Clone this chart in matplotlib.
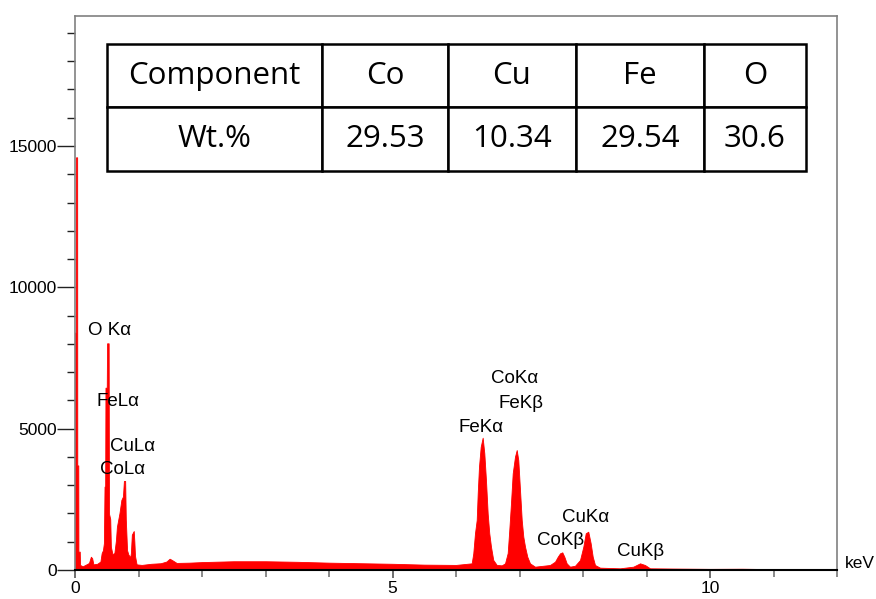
import matplotlib.pyplot as plt
from matplotlib.ticker import MultipleLocator

plt.rcParams['font.family'] = ['Liberation Sans', 'DejaVu Sans']

# EDS spectrum, counts (keV, counts)
energy_kev = [0.000, 0.014, 0.016, 0.034, 0.036, 0.052, 0.054, 0.075, 0.080, 0.12,
              0.18, 0.22, 0.25, 0.27, 0.29, 0.35, 0.40, 0.42, 0.44, 0.455,
              0.465, 0.475, 0.48, 0.50, 0.505, 0.530, 0.535, 0.555, 0.565, 0.59,
              0.62, 0.645, 0.66, 0.70, 0.73, 0.755, 0.77, 0.79, 0.80, 0.82,
              0.84, 0.87, 0.88, 0.895, 0.925, 0.935, 0.945, 0.97, 1.05, 1.20,
              1.35, 1.44, 1.49, 1.53, 1.60, 1.80, 2.00, 2.50, 3.00, 3.50,
              4.00, 4.50, 5.00, 5.50, 6.00, 6.247, 6.272, 6.299, 6.326, 6.342,
              6.362, 6.389, 6.420, 6.446, 6.472, 6.499, 6.524, 6.551, 6.587, 6.641,
              6.720, 6.772, 6.814, 6.839, 6.866, 6.893, 6.929, 6.956, 6.981, 7.008,
              7.035, 7.060, 7.087, 7.123, 7.165, 7.244, 7.480, 7.559, 7.602, 7.638,
              7.674, 7.706, 7.743, 7.795, 7.874, 7.953, 8.005, 8.043, 8.083, 8.121,
              8.153, 8.189, 8.268, 8.583, 8.792, 8.898, 8.976, 9.055, 9.50, 10.00,
              10.50, 11.00, 11.50, 12.00]
counts = [8400, 8400, 14600, 14600, 3700, 3700, 650, 650, 180, 130,
          200, 250, 470, 420, 200, 220, 300, 600, 700, 950,
          2950, 2950, 6450, 6450, 8020, 8020, 2000, 1800, 825, 560,
          600, 1060, 1530, 2010, 2480, 2600, 3150, 3150, 1800, 700,
          550, 450, 600, 1250, 1380, 1000, 500, 200, 180, 220,
          240, 300, 400, 350, 250, 260, 280, 310, 310, 290,
          260, 240, 220, 190, 180, 236, 590, 1300, 1770, 2720,
          3655, 4360, 4680, 4130, 3180, 2000, 1300, 825, 354, 180,
          165, 236, 600, 1415, 2370, 3420, 4010, 4245, 3890, 2830,
          1770, 1180, 825, 470, 236, 118, 177, 295, 470, 590,
          625, 470, 236, 118, 150, 354, 825, 1300, 1355, 945,
          470, 177, 83, 60, 118, 236, 177, 60, 50, 40,
          45, 30, 30, 30]

# peak labels (left edge, vertical centre, in data units)
peak_labels = ["O K\u03b1", "FeL\u03b1", "CuL\u03b1", "CoL\u03b1", "CoK\u03b1",
               "FeK\u03b2", "FeK\u03b1", "CuK\u03b1", "CoK\u03b2", "CuK\u03b2"]
label_x = [0.205, 0.346, 0.551, 0.394, 6.551, 6.677, 6.047, 7.669, 7.276, 8.535]
label_y = [8456, 5979, 4352, 3538, 6758, 5908, 5059, 1875, 1026, 637]

# composition table
components = ["Component", "Co", "Cu", "Fe", "O"]
wt_pct = ["Wt.%", "29.53", "10.34", "29.54", "30.6"]
col_widths = [215, 126, 128, 128, 102]

fig = plt.figure(figsize=(8.76, 5.99), dpi=100)
ax = fig.add_axes([75 / 876, 1 - 570 / 599, 762 / 876, 554 / 599])

ax.fill_between(energy_kev, counts, 0, facecolor='#ff0000', edgecolor='#ff0000', lw=0.6)

ax.set_xlim(0, 12)
ax.set_ylim(0, 19600)
ax.xaxis.set_major_locator(MultipleLocator(5))
ax.xaxis.set_minor_locator(MultipleLocator(1))
ax.yaxis.set_major_locator(MultipleLocator(5000))
ax.yaxis.set_minor_locator(MultipleLocator(1000))

ax.tick_params(axis='y', which='major', direction='out', length=13, width=1,
               pad=0, labelsize=12.5, color='#222222')
ax.tick_params(axis='y', which='minor', direction='out', length=6, width=1,
               color='#222222')
ax.tick_params(axis='x', which='major', direction='out', length=6, width=1.2,
               pad=2, labelsize=12.5, color='#555555')
ax.tick_params(axis='x', which='minor', direction='out', length=5, width=1.2,
               color='#777777')

for side in ['left', 'right', 'top']:
    ax.spines[side].set_color('#808080')
    ax.spines[side].set_linewidth(1.2)
ax.spines['bottom'].set_color('black')
ax.spines['bottom'].set_linewidth(1.5)

for txt, x, y in zip(peak_labels, label_x, label_y):
    ax.text(x, y, txt, ha='left', va='center', fontsize=13.5)

ax.text(1.0105, 0.0126, "keV", transform=ax.transAxes, ha='left', va='center',
        fontsize=12.5, clip_on=False)

total_w = sum(col_widths)
tbl = ax.table(cellText=[components, wt_pct], cellLoc='center',
               colWidths=[w / total_w for w in col_widths],
               bbox=[0.042, 0.7202, 0.9173, 0.2293])
tbl.auto_set_font_size(False)
for cell in tbl.get_celld().values():
    cell.set_linewidth(1.8)
    cell.set_edgecolor('black')
    cell.get_text().set_fontfamily(['Open Sans', 'DejaVu Sans'])
    cell.get_text().set_fontsize(22.5)

fig.savefig('out.png', dpi=100)
